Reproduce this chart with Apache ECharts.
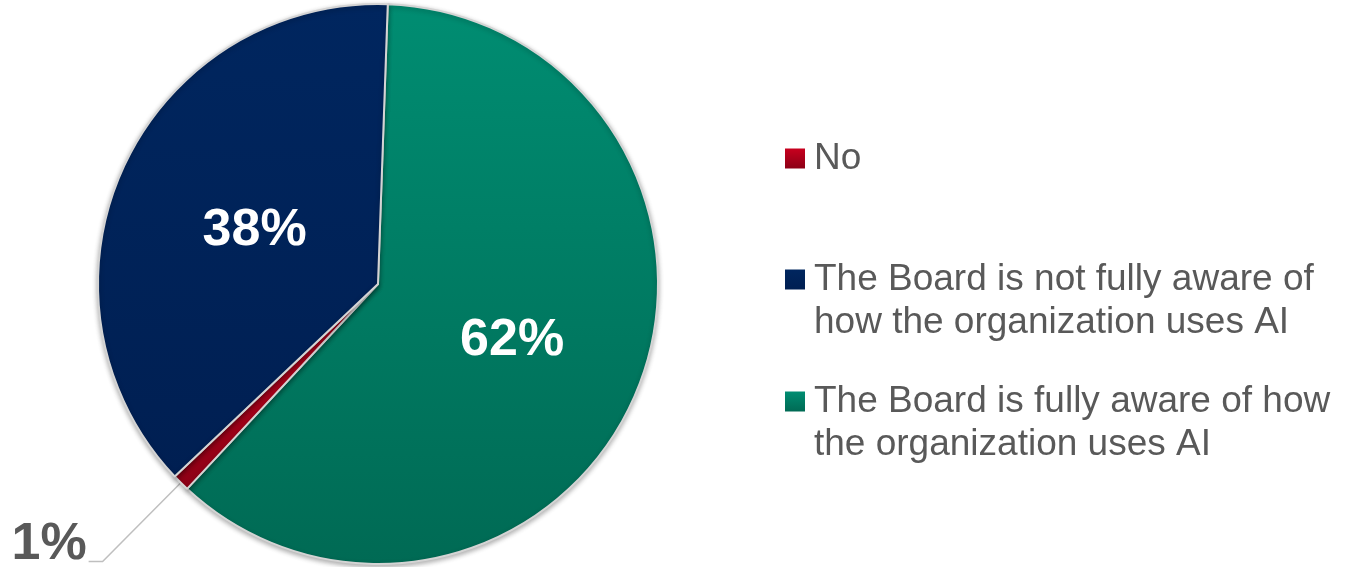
<!DOCTYPE html>
<html>
<head>
<meta charset="utf-8">
<title>Board awareness of AI use</title>
<script src="https://cdn.jsdelivr.net/npm/echarts@6/dist/echarts.min.js"></script>
<style>
  html, body { margin: 0; padding: 0; background: #ffffff; }
  #chart { width: 1345px; height: 567px; }
</style>
</head>
<body>
<div id="chart"></div>
<script>
// Survey answers, in legend order
const categories = [
  'No',
  'The Board is not fully aware of how the organization uses AI',
  'The Board is fully aware of how the organization uses AI'
];
// Legend text broken into lines
const legendLines = [
  ['No'],
  ['The Board is not fully aware of', 'how the organization uses AI'],
  ['The Board is fully aware of how', 'the organization uses AI']
];
// Share of respondents, percent
const shares = [1, 38, 62];
// Clockwise drawing order of the slices (indexes into categories)
const sliceOrder = [2, 0, 1];

function vGrad(top, bottom) {
  return new echarts.graphic.LinearGradient(0, 0, 0, 1, [
    { offset: 0, color: top },
    { offset: 1, color: bottom }
  ]);
}
const fills = [
  vGrad('#c8001e', '#8c0016'),
  vGrad('#00265f', '#001f52'),
  vGrad('#008d72', '#006a54')
];

const FONT = '"Liberation Sans", Arial, sans-serif';
const LINE_H = 43;

// Inside labels nudged toward the slice's visual centre
const insideOffsets = { 1: [7, 5], 2: [2, 2] };

const pieData = sliceOrder.map(function (i) {
  const inside = i !== 0;
  return {
    name: categories[i],
    value: shares[i],
    itemStyle: { color: fills[i] },
    label: inside
      ? { position: 'inside', color: '#ffffff', fontSize: 52, offset: insideOffsets[i] }
      : {
          position: 'outside',
          // the empty second line lifts the value so the leader meets its baseline
          formatter: '{v|{c}%}\n{s| }',
          rich: {
            v: { color: '#595959', fontSize: 52, fontWeight: 'bold', fontFamily: FONT, lineHeight: 52 },
            s: { fontSize: 10, lineHeight: 34 }
          }
        },
    labelLine: { show: !inside }
  };
});

// One legend block per answer; a leading blank line keeps the swatch beside the first text line
const legendTops = [137, 215, 337];
const legends = categories.map(function (name, i) {
  const multi = legendLines[i].length > 1;
  return {
    orient: 'vertical',
    left: 785,
    top: legendTops[i],
    padding: 0,
    itemWidth: 20,
    itemHeight: 20,
    icon: 'rect',
    itemStyle: { borderWidth: 0 },
    data: [name],
    formatter: function () { return (multi ? '\n' : '') + legendLines[i].join('\n'); },
    textStyle: {
      color: '#595959',
      fontFamily: FONT,
      fontSize: 37,
      lineHeight: LINE_H,
      padding: [0, 0, 0, 4]
    }
  };
});

const chart = echarts.init(document.getElementById('chart'), null, { renderer: 'canvas' });
chart.setOption({
  backgroundColor: '#ffffff',
  animation: false,
  legend: legends,
  series: [{
    type: 'pie',
    center: [378, 284],
    radius: 280,
    startAngle: 88,
    clockwise: true,
    avoidLabelOverlap: false,
    selectedMode: false,
    emphasis: { disabled: true },
    itemStyle: {
      borderColor: '#d4d4d4',
      borderWidth: 2,
      shadowBlur: 5,
      shadowOffsetY: 2,
      shadowColor: 'rgba(0,0,0,0.3)'
    },
    label: {
      formatter: '{c}%',
      fontFamily: FONT,
      fontWeight: 'bold',
      distanceToLabelLine: 2
    },
    labelLine: {
      length: 111,
      length2: 14,
      lineStyle: { color: '#bfbfbf', width: 1.5 }
    },
    data: pieData
  }]
});
</script>
</body>
</html>
